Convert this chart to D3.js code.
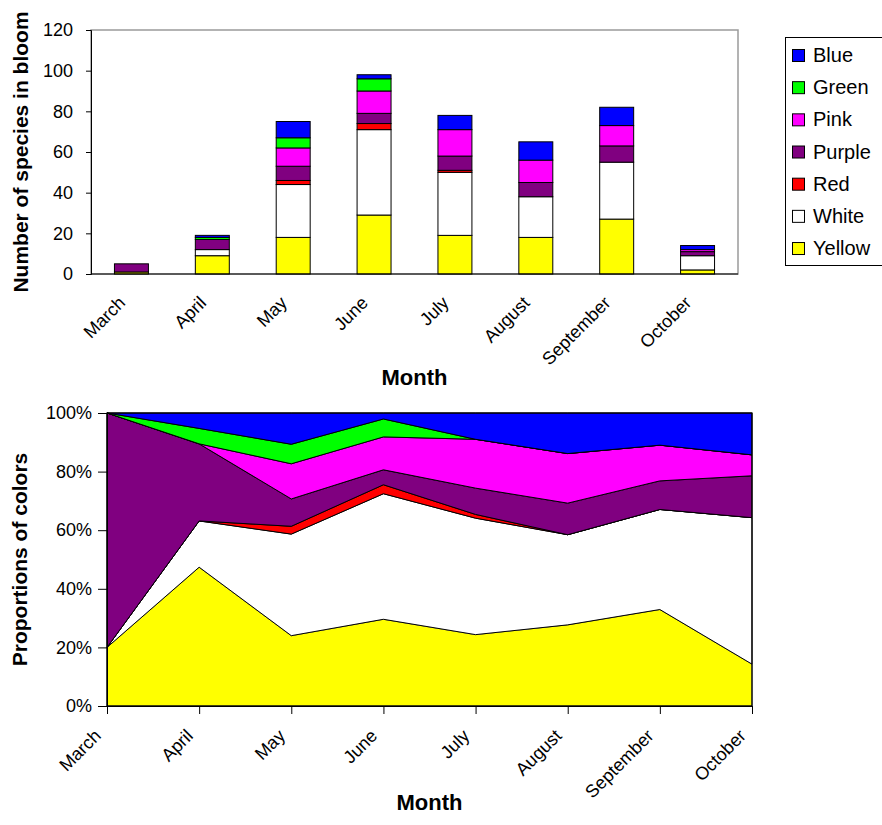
<!DOCTYPE html>
<html>
<head>
<meta charset="utf-8">
<script src="https://cdn.jsdelivr.net/npm/d3@7/dist/d3.min.js"></script>
<style>
  html, body { margin: 0; padding: 0; background: #fff; }
  svg { display: block; font-family: "Liberation Sans", Arial, sans-serif; }
</style>
</head>
<body>
<svg id="chart" width="882" height="825"></svg>
<script>
// Flowering species per month, split by flower colour
const months = ["March", "April", "May", "June", "July", "August", "September", "October"];
const colorNames = ["Yellow", "White", "Red", "Purple", "Pink", "Green", "Blue"];
const fills = ["#FFFF00", "#FFFFFF", "#FF0000", "#800080", "#FF00FF", "#00FF00", "#0000FF"];

const yellow = [1, 9, 18, 29, 19, 18, 27, 2];
const white  = [0, 3, 26, 42, 31, 20, 28, 7];
const red    = [0, 0, 2, 3, 1, 0, 0, 0];
const purple = [4, 5, 7, 5, 7, 7, 8, 2];
const pink   = [0, 0, 9, 11, 13, 11, 10, 1];
const green  = [0, 1, 5, 6, 0, 0, 0, 0];
const blue   = [0, 1, 8, 2, 7, 9, 9, 2];

const countTicks = [0, 20, 40, 60, 80, 100, 120];
const shareTicks = [0, 0.2, 0.4, 0.6, 0.8, 1.0];

const series = { Yellow: yellow, White: white, Red: red, Purple: purple, Pink: pink, Green: green, Blue: blue };
const rows = months.map((m, i) => {
  const r = { month: m };
  colorNames.forEach(c => { r[c] = series[c][i]; });
  return r;
});
const fillOf = d3.scaleOrdinal().domain(colorNames).range(fills);

const svg = d3.select("#chart");
svg.append("rect").attr("width", 882).attr("height", 825).attr("fill", "#fff");

// ---------- Stacked bars: number of species in bloom ----------
const upper = { left: 91, right: 738, top: 30, bottom: 274 };
const xb = d3.scaleBand().domain(months).range([upper.left, upper.right])
  .paddingInner(0.58).paddingOuter(0.29);
const yc = d3.scaleLinear().domain([0, 120]).range([upper.bottom, upper.top]);

const g1 = svg.append("g");
g1.append("rect")
  .attr("x", upper.left).attr("y", upper.top)
  .attr("width", upper.right - upper.left).attr("height", upper.bottom - upper.top)
  .attr("fill", "none").attr("stroke", "#9a9a9a").attr("stroke-width", 1.5);

const stackCount = d3.stack().keys(colorNames)(rows);
g1.selectAll("g.layer").data(stackCount).join("g")
  .attr("class", "layer")
  .attr("fill", d => fillOf(d.key))
  .selectAll("rect").data(d => d.filter(p => p[1] > p[0])).join("rect")
  .attr("x", d => xb(d.data.month))
  .attr("width", xb.bandwidth())
  .attr("y", d => yc(d[1]))
  .attr("height", d => yc(d[0]) - yc(d[1]))
  .attr("stroke", "#000").attr("stroke-width", 1);

const yAxis1 = g1.append("g").attr("transform", `translate(${upper.left},0)`)
  .call(d3.axisLeft(yc).tickValues(countTicks).tickSize(5).tickPadding(13).tickFormat(d3.format("d")));
yAxis1.select(".domain").attr("stroke", "#000");
yAxis1.selectAll("text").attr("font-size", 18).attr("fill", "#000")
  .attr("font-family", "'Liberation Sans', Arial, sans-serif");

g1.append("line").attr("x1", upper.left).attr("x2", upper.right)
  .attr("y1", upper.bottom).attr("y2", upper.bottom).attr("stroke", "#000");

g1.selectAll("text.xlab").data(months).join("text")
  .attr("class", "xlab")
  .attr("transform", d => `translate(${xb(d) + xb.bandwidth() / 2 - 5},${upper.bottom + 30}) rotate(-45)`)
  .attr("text-anchor", "end").attr("font-size", 18).text(d => d);

g1.append("text").attr("x", (upper.left + upper.right) / 2).attr("y", 385)
  .attr("text-anchor", "middle").attr("font-size", 22).attr("font-weight", "bold").text("Month");
g1.append("text").attr("transform", `translate(28,${(upper.top + upper.bottom) / 2}) rotate(-90)`)
  .attr("text-anchor", "middle").attr("font-size", 21).attr("font-weight", "bold")
  .text("Number of species in bloom");

// Legend, listed from the top of the stack downwards
const legend = svg.append("g");
legend.append("rect").attr("x", 785.5).attr("y", 37.5).attr("width", 120).attr("height", 228)
  .attr("fill", "#fff").attr("stroke", "#000").attr("stroke-width", 1);
const legendOrder = colorNames.slice().reverse();
const li = legend.selectAll("g.item").data(legendOrder).join("g")
  .attr("class", "item")
  .attr("transform", (d, i) => `translate(0,${i * 32.17})`);
li.append("rect").attr("x", 792.5).attr("y", 49.5).attr("width", 12).attr("height", 12)
  .attr("fill", d => fillOf(d)).attr("stroke", "#000");
li.append("text").attr("x", 813).attr("y", 62).attr("font-size", 20).text(d => d);

// ---------- 100% stacked areas: proportions of colours ----------
const lower = { left: 107, right: 752, top: 413, bottom: 706 };
const xp = d3.scalePoint().domain(months).range([lower.left, lower.right]).padding(0);
const ys = d3.scaleLinear().domain([0, 1]).range([lower.bottom, lower.top]);

const g2 = svg.append("g");
const stackShare = d3.stack().keys(colorNames).offset(d3.stackOffsetExpand)(rows);
const area = d3.area()
  .x(d => xp(d.data.month))
  .y0(d => ys(d[0]))
  .y1(d => ys(d[1]));
g2.selectAll("path.band").data(stackShare).join("path")
  .attr("class", "band")
  .attr("d", area)
  .attr("fill", d => fillOf(d.key))
  .attr("stroke", d => d.key === "Yellow" ? "#555" : "#000")
  .attr("stroke-width", 1).attr("stroke-linejoin", "round");

g2.append("rect")
  .attr("x", lower.left).attr("y", lower.top)
  .attr("width", lower.right - lower.left).attr("height", lower.bottom - lower.top)
  .attr("fill", "none").attr("stroke", "#000").attr("stroke-width", 1.2);

const yAxis2 = g2.append("g").attr("transform", `translate(${lower.left},0)`)
  .call(d3.axisLeft(ys).tickValues(shareTicks).tickSize(9).tickPadding(6).tickFormat(d3.format(".0%")));
yAxis2.select(".domain").attr("stroke", "#000");
yAxis2.selectAll("text").attr("font-size", 18).attr("fill", "#000")
  .attr("font-family", "'Liberation Sans', Arial, sans-serif");

const xAxis2 = g2.append("g").attr("transform", `translate(0,${lower.bottom})`)
  .call(d3.axisBottom(xp).tickSize(8).tickFormat(""));
xAxis2.select(".domain").attr("stroke", "#000");

g2.selectAll("text.xlab").data(months).join("text")
  .attr("class", "xlab")
  .attr("transform", d => `translate(${xp(d) - 5},${lower.bottom + 31}) rotate(-45)`)
  .attr("text-anchor", "end").attr("font-size", 18).text(d => d);

g2.append("text").attr("x", (lower.left + lower.right) / 2).attr("y", 810)
  .attr("text-anchor", "middle").attr("font-size", 22).attr("font-weight", "bold").text("Month");
g2.append("text").attr("transform", `translate(27,${(lower.top + lower.bottom) / 2}) rotate(-90)`)
  .attr("text-anchor", "middle").attr("font-size", 21).attr("font-weight", "bold")
  .text("Proportions of colors");
</script>
</body>
</html>
